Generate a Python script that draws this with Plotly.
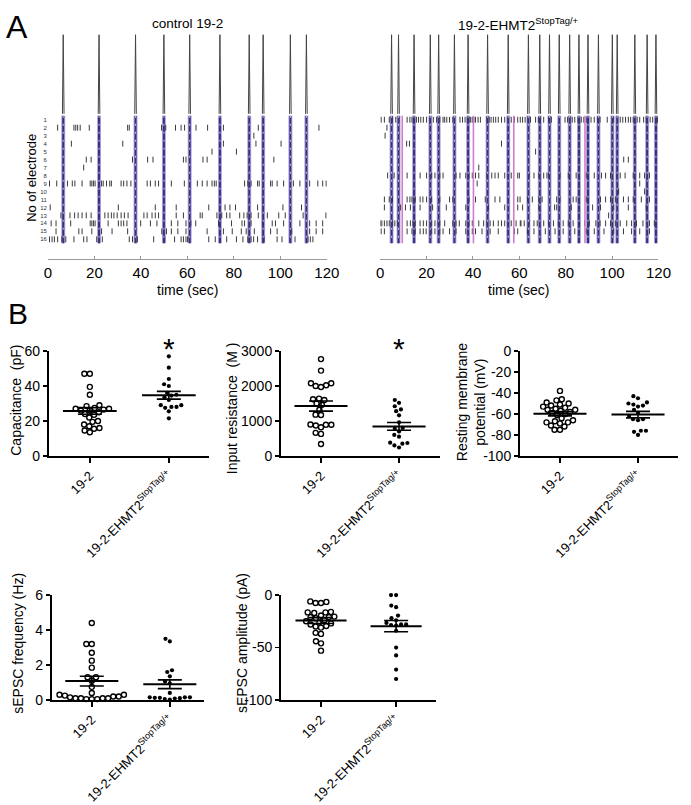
import plotly.graph_objects as go

W, H = 691, 805
FONT = "Liberation Sans, Arial, sans-serif"


def px(x):
    return x / W


def py(y):
    return 1 - y / H


# ---------------- DATA ----------------
time_ticks = [0, 20, 40, 60, 80, 100, 120]
electrodes = list(range(1, 17))

ctrl_bursts = [6.6, 22.0, 37.7, 49.9, 61.0, 74.0, 86.6, 92.6, 104.3, 111.2]
ehmt_bursts = [4.9, 7.9, 14.6, 21.6, 25.2, 32.0, 37.9, 46.3, 55.2, 63.9, 68.8,
               73.0, 77.2, 81.7, 85.7, 89.6, 94.1, 100.1, 102.2, 109.8, 115.1, 118.9]
ehmt_pink = [9.5, 40.2, 57.6, 88.3]

ctrl_e01 = []
ctrl_e02 = [4.2, 11.2, 12.0, 12.8, 13.9, 17.8, 34.3, 35.0, 48.9, 50.7, 54.9, 57.3, 58.8,
            63.7, 68.7, 75.5, 90.5, 116.6]
ctrl_e03 = [88.6]
ctrl_e04 = [10.1, 32.2, 75.5, 89.5, 100.3]
ctrl_e05 = [70.6, 81.1]
ctrl_e06 = [16.5, 18.6, 36.4, 42.9, 45.2, 58.3, 59.4, 66.7, 68.5, 97.2]
ctrl_e07 = [15.4]
ctrl_e08 = []
ctrl_e09 = [0.7, 3.8, 8.4, 10.5, 11.6, 14.7, 18.2, 18.9, 19.6, 20.3, 23.1, 23.8, 25.2, 26.6,
            27.3, 31.5, 32.6, 34.0, 35.7, 42.7, 44.1, 46.2, 47.6, 53.1, 58.7, 64.3, 66.4,
            68.5, 70.6, 71.6, 72.4, 84.6, 86.0, 87.4, 90.2, 90.9, 95.8, 96.5, 98.6, 101.4,
            105.6, 108.4, 112.6, 116.1, 118.2, 119.7]
ctrl_e10 = []
ctrl_e11 = []
ctrl_e12 = [1.0, 30.3, 46.2, 55.2, 69.2, 76.2, 78.3, 80.7, 90.2, 101.1, 109.1]
ctrl_e13 = [5.6, 9.5, 11.5, 13.0, 14.7, 16.5, 18.6, 24.5, 25.9, 27.3, 28.4, 29.8, 31.5, 32.9,
            34.5, 41.3, 42.7, 44.8, 46.2, 47.6, 55.2, 58.3, 65.5, 66.4, 72.7, 74.8, 76.9,
            78.3, 82.5, 84.3, 85.7, 87.4, 90.5, 94.4, 99.3, 102.1, 109.8, 119.6]
ctrl_e14 = [1.4, 3.5, 9.8, 18.2, 18.9, 19.6, 20.3, 25.9, 30.3, 31.5, 32.6, 34.0, 39.9, 44.1,
            46.9, 49.7, 53.1, 55.9, 59.4, 61.5, 63.6, 73.4, 79.0, 83.5, 84.6, 87.4, 92.3,
            96.5, 97.9, 101.4, 108.4, 112.6, 115.4, 118.2]
ctrl_e15 = [3.5, 13.3, 14.7, 18.9, 23.1, 27.6, 34.3, 37.8, 49.0, 51.0, 53.1, 55.9, 59.4,
            68.5, 75.5, 79.3, 83.2, 85.3, 88.8, 95.8, 98.6, 104.9, 112.6, 115.4, 118.2]
ctrl_e16 = [0.7, 1.8, 2.8, 4.2, 6.0, 7.7, 11.2, 15.4, 16.8, 21.0, 23.4, 35.0, 36.4, 37.8,
            38.5, 45.5, 50.3, 54.5, 57.3, 58.3, 59.4, 60.1, 60.8, 69.2, 72.0, 74.1, 76.9,
            81.1, 83.9, 86.0, 87.4, 88.5, 90.2, 93.0, 98.6, 100.7, 104.2, 106.3, 111.9,
            112.9, 114.0]

ehmt_e01 = [0.4, 1.8, 3.9, 5.3, 6.7, 8.1, 11.6, 12.8, 13.7, 14.4, 15.6, 16.5, 17.5, 18.6,
            20.0, 21.5, 22.9, 24.3, 25.7, 27.1, 27.8, 28.7, 29.9, 31.3, 34.4, 35.5, 36.6,
            37.6, 38.3, 39.0, 39.7, 40.4, 41.1, 42.2, 43.2, 46.0, 47.0, 47.8, 48.8, 49.8,
            50.9, 52.3, 53.7, 55.1, 56.5, 57.9, 59.3, 60.4, 61.4, 62.5, 63.7, 64.8, 67.0,
            68.2, 69.1, 70.5, 72.6, 73.8, 79.7, 80.8, 81.8, 82.8, 83.9, 85.3, 86.7, 87.8,
            88.8, 89.8, 90.9, 92.3, 93.7, 94.8, 97.9, 100.7, 102.4, 103.5, 104.6, 105.8,
            107.0, 108.0, 109.1, 110.8, 111.9, 113.6, 114.7, 116.4, 117.5, 118.7, 119.6]
ehmt_e02 = [2.9]
ehmt_e03 = [2.1]
ehmt_e04 = [11.4, 12.6, 52.3]
ehmt_e05 = [67.0]
ehmt_e06 = [105.0, 107.0]
ehmt_e07 = [42.5]
ehmt_e08 = [3.2, 6.0, 11.6, 17.2, 20.0, 22.2, 23.6, 25.7, 27.1, 32.7, 34.4, 36.9, 38.3,
            39.7, 41.1, 42.5, 46.0, 48.1, 49.5, 50.9, 53.7, 55.1, 56.5, 59.3, 60.0, 64.2,
            66.3, 68.4, 70.5, 71.9, 72.6, 77.5, 81.1, 84.5, 88.8, 92.3, 95.4, 97.2, 99.3,
            102.1, 103.5, 105.6, 109.1, 111.9, 114.0, 116.1, 118.9]
ehmt_e09 = [41.8, 111.9]
ehmt_e10 = [102.8, 114.0]
ehmt_e11 = [1.8, 3.9, 5.3, 11.6, 12.8, 13.7, 15.1, 17.2, 18.4, 20.0, 22.2, 25.7, 29.9,
            31.3, 38.3, 41.1, 45.3, 49.5, 51.6, 55.1, 59.3, 60.3, 63.5, 65.6, 68.4, 69.8,
            76.1, 77.5, 83.2, 84.5, 88.8, 95.0, 97.2, 99.3, 101.4, 104.9, 107.0, 109.1,
            112.6, 116.1]
ehmt_e12 = [1.8, 8.8, 10.9, 13.0, 17.2, 22.6, 28.5, 36.9, 46.7, 53.7, 59.3, 61.4, 68.4,
            75.2, 76.1, 82.4, 91.6, 95.0, 100.7, 107.0, 114.7]
ehmt_e13 = [98.5]
ehmt_e14 = [0.0, 0.7, 1.8, 2.9, 3.9, 5.3, 6.3, 7.4, 11.6, 13.0, 14.1, 15.1, 17.2, 18.6,
            20.0, 22.2, 23.6, 25.0, 25.7, 27.8, 31.3, 32.7, 34.1, 36.9, 38.3, 39.7, 42.5,
            44.6, 46.0, 47.4, 48.8, 50.9, 52.3, 53.7, 55.1, 56.5, 58.6, 60.4, 60.7, 62.1,
            64.2, 66.3, 67.7, 70.5, 72.6, 74.7, 76.8, 78.9, 81.1, 83.2, 86.0, 88.1, 90.2,
            93.0, 94.8, 97.2, 99.3, 101.4, 103.5, 106.3, 108.4, 110.5, 113.3, 116.1, 118.2]
ehmt_e15 = [0.4, 1.8, 11.6, 13.7, 15.1, 17.2, 18.6, 19.8, 22.2, 23.6, 25.7, 27.1, 29.9,
            32.7, 36.9, 39.7, 41.1, 43.9, 47.4, 50.9, 55.1, 57.9, 59.3, 63.5, 66.3, 71.2,
            75.4, 78.9, 83.9, 88.8, 92.3, 96.5, 100.7, 104.9, 108.4, 111.9, 116.1]
ehmt_e16 = []

groups = ["19-2", "19-2-EHMT2<sup>StopTag/+</sup>"]

cap_ctrl = [47, 47, 39.5, 35, 29, 28.5, 27.5, 27, 27, 26.5, 26, 26, 25, 24, 23.5, 22, 20,
            19.5, 18, 17, 16, 15.5, 14.5, 13.5]
cap_ehmt = [57, 50.5, 44, 41, 40, 36, 35, 34.5, 33.5, 32, 29, 29, 28, 28, 27.5, 25.5, 21.5]
cap_mean = [25.7, 34.7]
cap_sem = [1.9, 2.2]

res_ctrl = [2770, 2440, 2080, 2080, 2020, 1970, 2000, 1600, 1640, 1620, 1460, 1500, 1320,
            1180, 1170, 900, 890, 870, 890, 820, 660, 630, 340]
res_ehmt = [1600, 1520, 1420, 1330, 1280, 1160, 960, 800, 780, 700, 600, 550, 380, 350,
            370, 300, 240]
res_mean = [1425, 844]
res_sem = [145, 112]

rmp_ctrl = [-38, -47, -46, -49, -50, -51, -52, -53, -54, -55, -56, -56, -57, -58, -59, -60,
            -61, -64, -66, -67, -68, -68, -69, -71, -72, -75, -75]
rmp_ehmt = [-43, -45, -49, -50, -51, -52, -53, -56, -59, -62, -65, -66, -65, -76, -77,
            -76, -80]
rmp_mean = [-59.8, -60.6]
rmp_sem = [2.0, 3.1]

freq_ctrl = [4.4, 3.2, 3.2, 2.7, 2.25, 1.85, 1.3, 1.3, 1.1, 0.75, 0.4, 0.3, 0.25, 0.2, 0.1,
             0.1, 0.05, 0.05, 0.05, 0.1, 0.1, 0.15, 0.2, 0.3]
freq_ehmt = [3.5, 3.35, 1.7, 1.6, 1.35, 1.05, 0.95, 0.4, 0.15, 0.12, 0.1, 0.05, 0.02, 0.08,
             0.12, 0.15, 0.15]
freq_mean = [1.08, 0.9]
freq_sem = [0.28, 0.25]

amp_ctrl = [-6, -7.5, -7.5, -6.5, -16, -16.5, -16.5, -17, -19.5, -20.5, -21, -21, -22, -24,
            -25, -26, -27, -28, -30, -29.5, -31, -37, -36, -44, -46, -53]
amp_ehmt = [0, 0, -10, -11.5, -19.5, -22, -24, -26.5, -28, -28.5, -28, -29, -34, -50,
            -57.5, -71, -80]
amp_mean = [-24.3, -29.6]
amp_sem = [2.8, 5.4]

ctrl_rows = [ctrl_e01, ctrl_e02, ctrl_e03, ctrl_e04, ctrl_e05, ctrl_e06, ctrl_e07, ctrl_e08,
             ctrl_e09, ctrl_e10, ctrl_e11, ctrl_e12, ctrl_e13, ctrl_e14, ctrl_e15, ctrl_e16]
ehmt_rows = [ehmt_e01, ehmt_e02, ehmt_e03, ehmt_e04, ehmt_e05, ehmt_e06, ehmt_e07, ehmt_e08,
             ehmt_e09, ehmt_e10, ehmt_e11, ehmt_e12, ehmt_e13, ehmt_e14, ehmt_e15, ehmt_e16]

# ---------------- FIGURE ----------------
fig = go.Figure()
layout = dict(width=W, height=H, margin=dict(l=0, r=0, t=0, b=0), autosize=False,
              paper_bgcolor="white", plot_bgcolor="white", showlegend=False,
              font=dict(family=FONT, color="black"))
shapes = []
annotations = []

RASTER_TOP, RASTER_BOT = 108, 256
ROW1, ROWSTEP = 114, 8.133
r_lo = 1 - (ROW1 - RASTER_TOP) / ROWSTEP
r_hi = 16 + (RASTER_BOT - (ROW1 + 15 * ROWSTEP)) / ROWSTEP


def add_panel_a(ix, x0, x1, bursts, rows, pink, title, tcx, labels):
    tx, ty = f"x{ix}", f"y{ix}"
    rx, ry = f"x{ix+1}", f"y{ix+1}"
    # spike trace on top
    xs, ys = [0], [0]
    for b in bursts:
        xs += [b - 0.35, b, b + 0.35]
        ys += [0, 1, 0]
    xs.append(120)
    ys.append(0)
    fig.add_trace(go.Scatter(x=xs, y=ys, mode="lines", line=dict(color="#444444", width=1),
                             xaxis=tx, yaxis=ty, hoverinfo="skip"))
    layout[f"xaxis{ix}"] = dict(domain=[px(x0), px(x1)], range=[0, 120], visible=False, anchor=ty)
    layout[f"yaxis{ix}"] = dict(domain=[py(110), py(27)], range=[-0.01, 1], visible=False, anchor=tx)
    # burst bands
    for b in bursts:
        shapes.append(dict(type="rect", xref=rx, yref=ry, x0=b - 0.85, x1=b + 0.85, y0=0.5, y1=16.5,
                           fillcolor="#b0a4dc", line=dict(width=0), layer="below"))
    # ordinary spikes
    sx, sy = [], []
    for r, times in zip(electrodes, rows):
        for t in times:
            sx += [t, t, None]
            sy += [r - 0.37, r + 0.37, None]
    fig.add_trace(go.Scatter(x=sx, y=sy, mode="lines", line=dict(color="#3a3a3a", width=1),
                             xaxis=rx, yaxis=ry, hoverinfo="skip"))
    # pink lines
    if pink:
        qx, qy = [], []
        for p in pink:
            qx += [p, p, None]
            qy += [0.5, 16.5, None]
        fig.add_trace(go.Scatter(x=qx, y=qy, mode="lines", line=dict(color="#d27ccb", width=1.6),
                                 xaxis=rx, yaxis=ry, hoverinfo="skip"))
    # burst navy columns + white dashes
    bx, by = [], []
    for b in bursts:
        bx += [b, b, None]
        by += [0.5, 16.5, None]
    fig.add_trace(go.Scatter(x=bx, y=by, mode="lines", line=dict(color="#34327c", width=2),
                             xaxis=rx, yaxis=ry, hoverinfo="skip"))
    fig.add_trace(go.Scatter(x=bx, y=by, mode="lines",
                             line=dict(color="white", width=0.7, dash="2px,6px"),
                             xaxis=rx, yaxis=ry, hoverinfo="skip"))
    layout[f"xaxis{ix+1}"] = dict(domain=[px(x0), px(x1)], range=[0, 120], anchor=ry,
                                  showline=True, linecolor="#9a9a9a", linewidth=1.5,
                                  ticks="inside", ticklen=3, tickcolor="#9a9a9a",
                                  tickvals=time_ticks, tickfont=dict(size=15, color="black"),
                                  showgrid=False, zeroline=False)
    yax = dict(domain=[py(RASTER_BOT), py(RASTER_TOP)], range=[r_hi, r_lo],
               anchor=rx, showgrid=False, zeroline=False, showline=False, ticks="")
    if labels:
        yax.update(tickvals=electrodes, ticktext=[str(e) for e in electrodes],
                   tickfont=dict(size=6, color="#333"))
    else:
        yax.update(showticklabels=False)
    layout[f"yaxis{ix+1}"] = yax
    annotations.append(dict(text=title, x=px(tcx), y=py(16), xref="paper", yref="paper",
                            showarrow=False, font=dict(size=13.5), xanchor="center", yanchor="middle"))
    annotations.append(dict(text="time (sec)", x=px(tcx), y=py(288), xref="paper", yref="paper",
                            showarrow=False, font=dict(size=14), xanchor="center", yanchor="middle"))


add_panel_a(1, 45, 331, ctrl_bursts, ctrl_rows, [], "control 19-2", 188, True)
add_panel_a(3, 385.7, 671, ehmt_bursts, ehmt_rows, ehmt_pink,
            "19-2-EHMT2<sup>StopTag/+</sup>", 527, False)

annotations.append(dict(text="No of electrode", x=px(28), y=py(173), xref="paper", yref="paper",
                        showarrow=False, textangle=-90, font=dict(size=13),
                        xanchor="center", yanchor="middle"))
annotations.append(dict(text="A", x=px(0), y=py(19), xref="paper", yref="paper", showarrow=False,
                        font=dict(size=32), xanchor="left", yanchor="middle"))
annotations.append(dict(text="B", x=px(2), y=py(312), xref="paper", yref="paper", showarrow=False,
                        font=dict(size=30), xanchor="left", yanchor="middle"))


def swarm(vals, ppu_y, ppu_x, d):
    order = sorted(range(len(vals)), key=lambda i: vals[i])
    placed = []
    offs = [0.0] * len(vals)
    for i in order:
        yv = vals[i] * ppu_y
        cands = [0.0]
        for (xj, yj) in placed:
            dy = yv - yj
            if abs(dy) < d:
                dx = (d * d - dy * dy) ** 0.5
                cands += [xj + dx, xj - dx]
        cands.sort(key=lambda c: (abs(c), c))
        chosen = 0.0
        for c in cands:
            if all((c - xj) ** 2 + (yv - yj) ** 2 >= d * d - 1e-6 for xj, yj in placed):
                chosen = c
                break
        placed.append((chosen, yv))
        offs[i] = chosen / ppu_x
    return offs


def add_panel_b(ix, x0, x1, ytop, ybot, c0, c1, yrange, ytv, ytt, ctrl, ehmt, mean, sem,
                title_lines, title_x, title_y, star):
    xa, ya = f"x{ix}", f"y{ix}"
    ppu_x = c1 - c0
    ppu_y = (ybot - ytop) / (yrange[1] - yrange[0])
    lo = (x0 - c0) / ppu_x
    hi = (x1 - c0) / ppu_x
    o0 = swarm(ctrl, ppu_y, ppu_x, 5.6)
    o1 = swarm(ehmt, ppu_y, ppu_x, 5.2)
    fig.add_trace(go.Scatter(x=[0 + o for o in o0], y=ctrl, mode="markers", xaxis=xa, yaxis=ya,
                             marker=dict(symbol="circle-open", size=5, color="black",
                                         line=dict(width=1.4, color="black")),
                             cliponaxis=False, hoverinfo="skip"))
    fig.add_trace(go.Scatter(x=[1 + o for o in o1], y=ehmt, mode="markers", xaxis=xa, yaxis=ya,
                             marker=dict(symbol="circle", size=4.2, color="black"),
                             cliponaxis=False, hoverinfo="skip"))
    for k in range(2):
        fig.add_trace(go.Scatter(x=[k - 0.34, k + 0.34], y=[mean[k], mean[k]], mode="lines",
                                 line=dict(color="black", width=2), xaxis=xa, yaxis=ya,
                                 hoverinfo="skip"))
    fig.add_trace(go.Scatter(x=[0, 1], y=mean, mode="markers", marker=dict(size=1, opacity=0),
                             error_y=dict(type="data", array=sem, visible=True, color="black",
                                          thickness=1.6, width=12),
                             xaxis=xa, yaxis=ya, hoverinfo="skip"))
    layout[f"xaxis{ix}"] = dict(domain=[px(x0), px(x1)], range=[lo, hi], anchor=ya,
                                tickvals=[0, 1], ticktext=groups, tickangle=-45,
                                ticks="outside", ticklen=5, tickwidth=1.5, tickcolor="black",
                                showline=True, linewidth=2, linecolor="black",
                                showgrid=False, zeroline=False,
                                tickfont=dict(size=13, color="black"))
    layout[f"yaxis{ix}"] = dict(domain=[py(ybot), py(ytop)], range=yrange, anchor=xa,
                                tickvals=ytv, ticktext=ytt, ticks="outside", ticklen=4,
                                tickwidth=1.5, tickcolor="black", showline=True, linewidth=2,
                                linecolor="black", showgrid=False, zeroline=False,
                                tickfont=dict(size=14, color="black"))
    annotations.append(dict(text=title_lines, x=px(title_x), y=py(title_y), xref="paper",
                            yref="paper", showarrow=False, textangle=-90, font=dict(size=14),
                            xanchor="center", yanchor="middle"))
    if star:
        annotations.append(dict(text="*", x=1, xref=xa, y=py(347), yref="paper", showarrow=False,
                                font=dict(size=30), xanchor="center", yanchor="middle"))


add_panel_b(5, 46, 210, 350, 457, 88, 169, [0, 60], [0, 20, 40, 60], ["0", "20", "40", "60"],
            cap_ctrl, cap_ehmt, cap_mean, cap_sem, "Capacitance  (pF)", 12, 400, True)
add_panel_b(6, 284, 447, 350, 457, 325, 405, [0, 3000], [0, 1000, 2000, 3000],
            ["0", "1000", "2000", "3000"], res_ctrl, res_ehmt, res_mean, res_sem,
            "Input resistance  (M )", 234, 408, True)
add_panel_b(7, 529, 691, 350, 457, 570, 650, [-100, 0], [-100, -80, -60, -40, -20, 0],
            ["-100", "-80", "-60", "-40", "-20", "0"], rmp_ctrl, rmp_ehmt, rmp_mean, rmp_sem,
            "Resting membrane<br>potential (mV)", 479, 402, False)
add_panel_b(8, 49, 205, 599, 706, 90, 170, [0, 6], [0, 2, 4, 6], ["0", "2", "4", "6"],
            freq_ctrl, freq_ehmt, freq_mean, freq_sem, "sEPSC frequency (Hz)", 14, 648, False)
add_panel_b(9, 284, 443, 599, 706, 325, 402, [-100, 0], [-100, -50, 0], ["-100", "-50", "0"],
            amp_ctrl, amp_ehmt, amp_mean, amp_sem, "sEPSC amplitude (pA)", 244, 648, False)

layout["shapes"] = shapes
layout["annotations"] = annotations
fig.update_layout(**layout)
fig.write_html("out.html", config={"displayModeBar": False, "staticPlot": True},
               post_script="document.body.style.margin='0px';document.body.style.padding='0px';")
